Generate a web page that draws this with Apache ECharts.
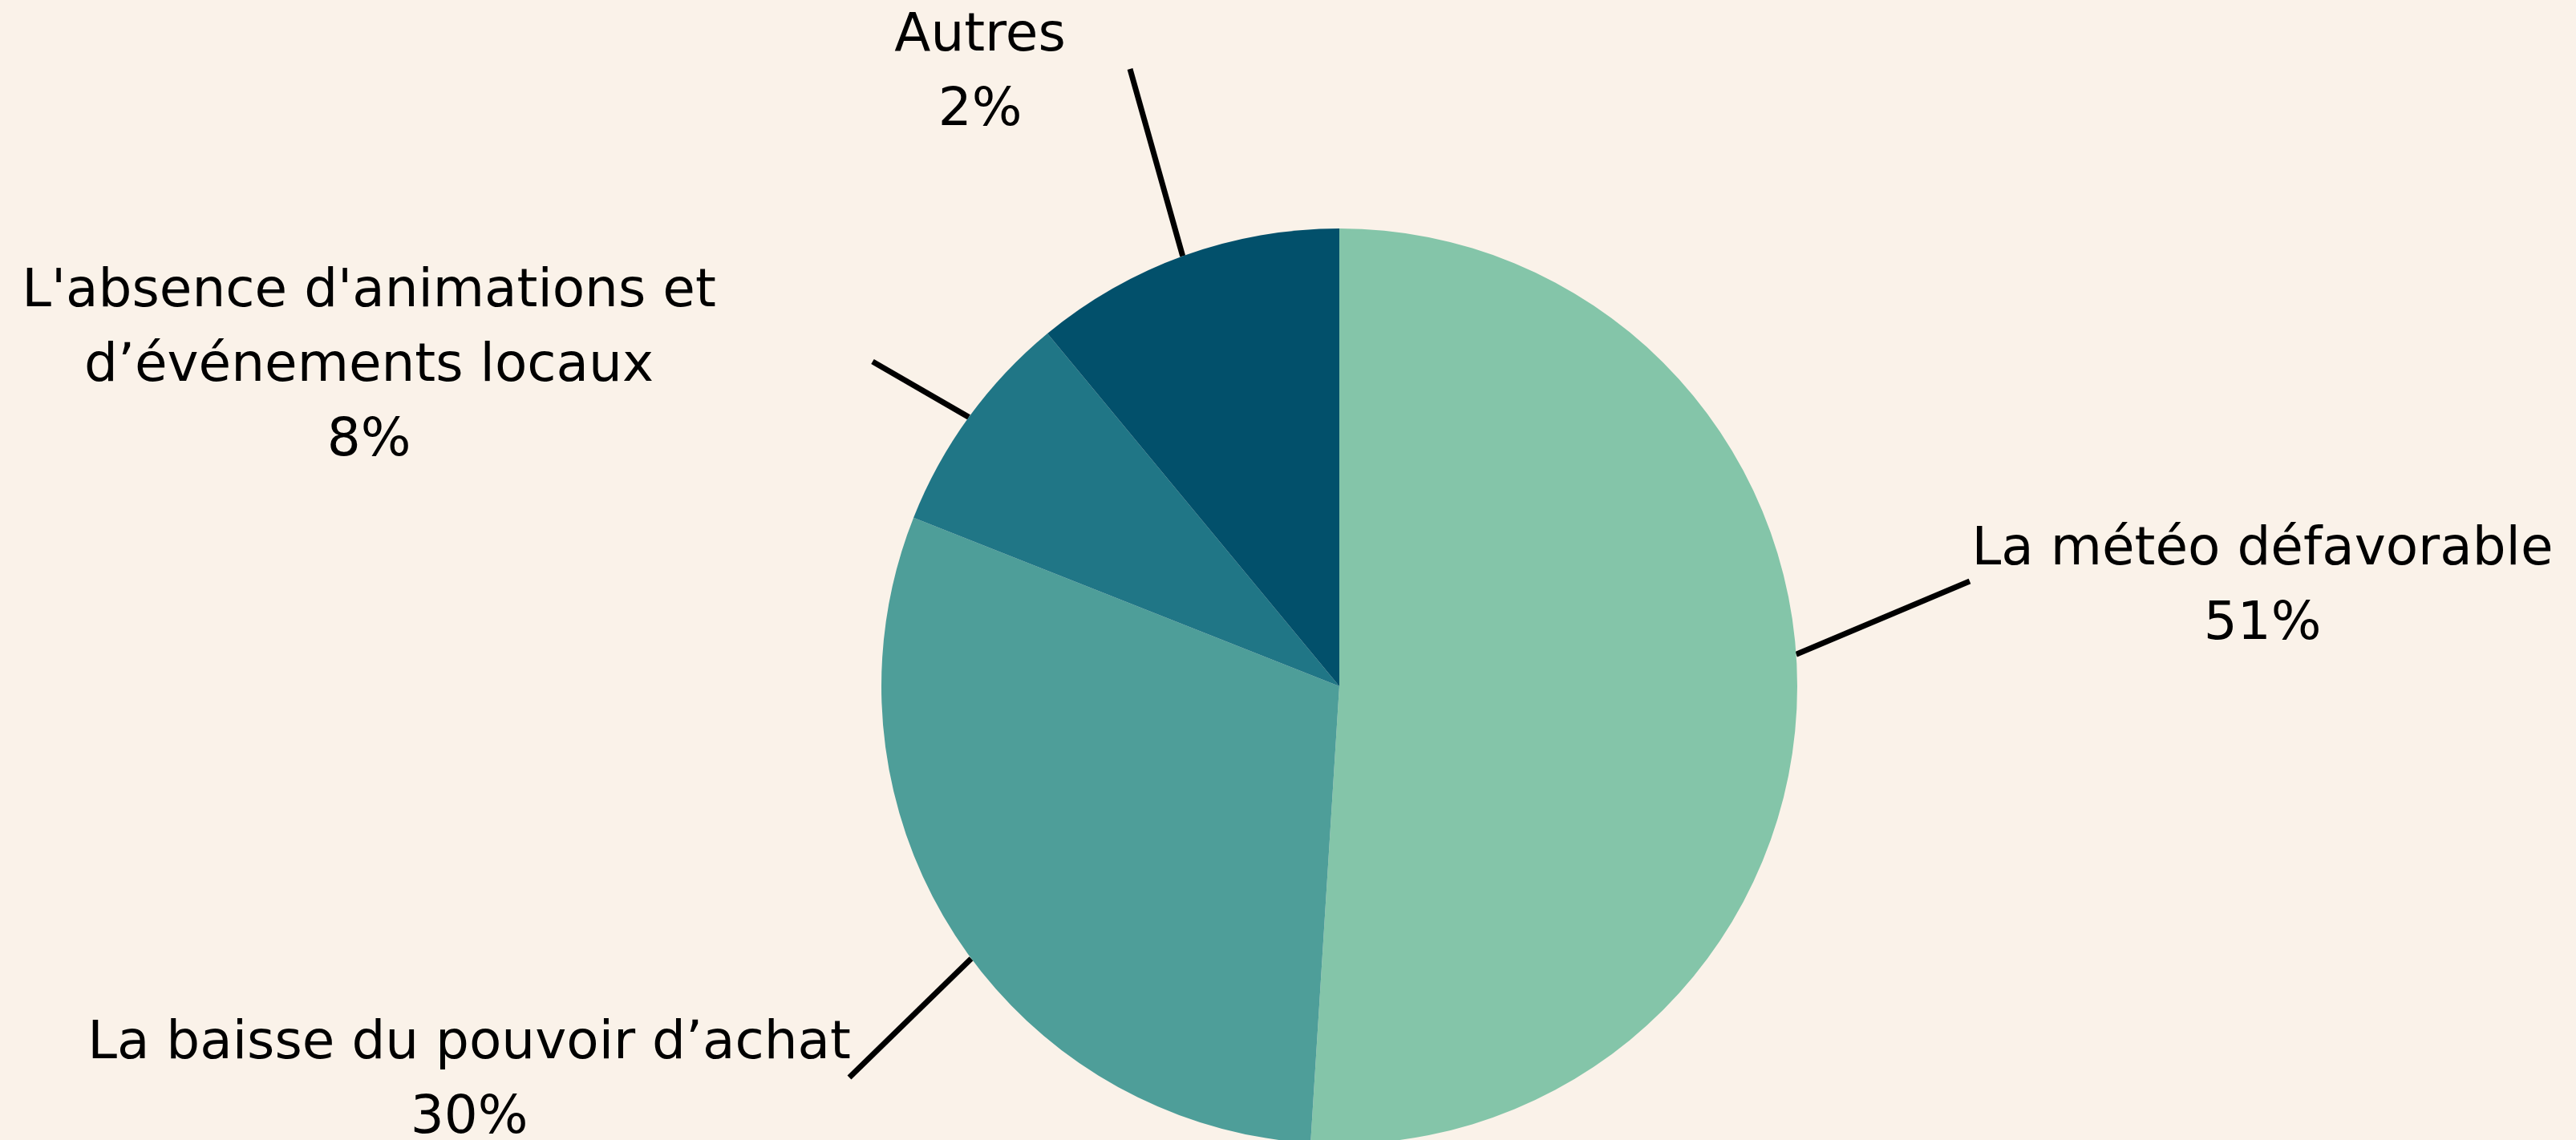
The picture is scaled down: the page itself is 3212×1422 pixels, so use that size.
<!DOCTYPE html>
<html>
<head>
<meta charset="utf-8">
<script src="https://cdn.jsdelivr.net/npm/echarts/dist/echarts.min.js"></script>
<style>
    html, body { margin: 0; padding: 0; background: #FAF2E9; }
    #chart { width: 3212px; height: 1422px; }
</style>
</head>
<body>
<div id="chart"></div>
<script>
// categories, clockwise from the top
var categories = [
    'La météo défavorable',
    'La baisse du pouvoir d’achat',
    'L\'absence d\'animations et\nd’événements locaux',
    'Autres'
];
// share of the disc each slice covers
var sliceValues = [51, 30, 8, 11];
// percentages as printed in the labels
var labelPercents = [51, 30, 8, 2];
var sliceColors = ['#84C5A9', '#4E9E99', '#207686', '#02506B'];

// label block centres, guide line start angle on the rim and guide line end
var labelCenters = [[2821, 733], [585, 1349], [460, 458], [1222, 92]];
var lineStartAngles = [86, 233.5, 306, 340];
var lineEnds = [[2456, 725], [1059, 1344], [1088, 451], [1409, 86]];

var pieCenter = [1670, 856];
var pieRadius = 571;

var chart = echarts.init(document.getElementById('chart'));

var pieData = categories.map(function (name, i) {
    return {
        name: name,
        value: sliceValues[i],
        itemStyle: { color: sliceColors[i] }
    };
});

// point on the rim, angle counted clockwise from the top
function rimPoint(angle) {
    var rad = angle * Math.PI / 180;
    return [pieCenter[0] + pieRadius * Math.sin(rad), pieCenter[1] - pieRadius * Math.cos(rad)];
}

var option = {
    backgroundColor: '#FAF2E9',
    animation: false,
    series: [{
        type: 'pie',
        center: pieCenter,
        radius: pieRadius,
        startAngle: 90,
        clockwise: true,
        avoidLabelOverlap: false,
        itemStyle: { borderWidth: 0 },
        label: {
            show: true,
            position: 'outside',
            formatter: function (p) {
                return p.name + '\n' + labelPercents[p.dataIndex] + '%';
            },
            fontFamily: 'DejaVu Sans',
            fontSize: 66,
            lineHeight: 93,
            color: '#000',
            align: 'center'
        },
        labelLine: {
            show: true,
            length: 20,
            length2: 0,
            lineStyle: { color: '#000', width: 7 }
        },
        labelLayout: function (params) {
            var i = params.dataIndex;
            return {
                x: labelCenters[i][0],
                y: labelCenters[i][1],
                align: 'center',
                verticalAlign: 'middle',
                labelLinePoints: [rimPoint(lineStartAngles[i]), lineEnds[i]]
            };
        },
        emphasis: { disabled: true },
        data: pieData
    }]
};

chart.setOption(option);
</script>
</body>
</html>
